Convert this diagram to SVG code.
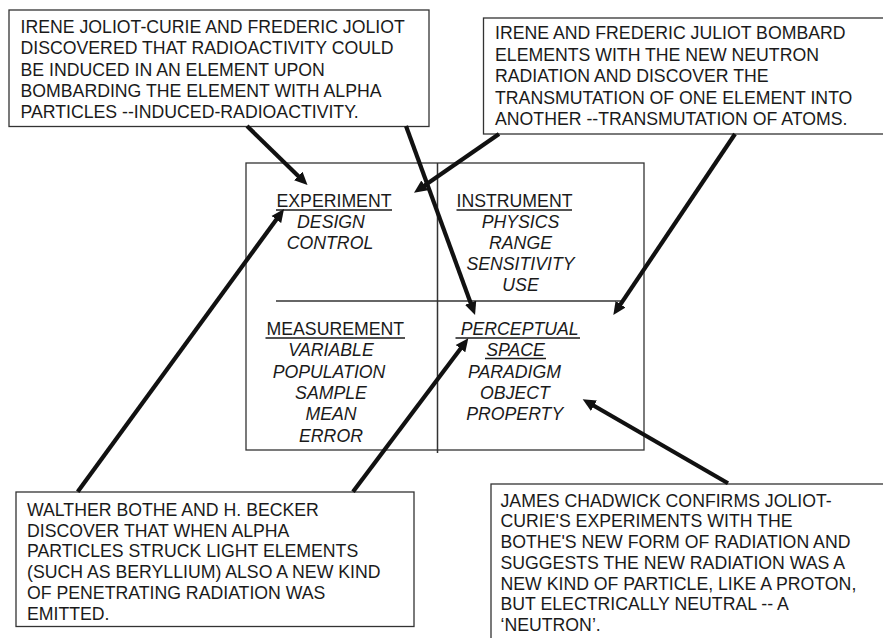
<svg xmlns="http://www.w3.org/2000/svg" width="883" height="638" viewBox="0 0 883 638">
<style>
.box{fill:#fff;stroke:#333;stroke-width:1.3}
.t{font-family:"Liberation Sans",Arial,sans-serif;font-size:17.7px;fill:#1a1a1a}
.i{font-family:"Liberation Sans",Arial,sans-serif;font-size:17.7px;fill:#1a1a1a;font-style:italic;text-anchor:middle}
.h{font-family:"Liberation Sans",Arial,sans-serif;font-size:17.7px;fill:#1a1a1a;text-anchor:middle}
.u{stroke:#1a1a1a;stroke-width:1.6}
.div{stroke:#333;stroke-width:1.5}
.arr{stroke:#111;stroke-width:4.2;fill:none;marker-end:url(#ah)}
</style>
<defs>
<marker id="ah" markerUnits="userSpaceOnUse" markerWidth="20" markerHeight="14" refX="5" refY="6" orient="auto" viewBox="0 0 20 12">
<path d="M0,0 L13,6 L0,12 z" fill="#111"/>
</marker>
</defs>
<rect width="883" height="638" fill="#fff"/>

<g id="central">
<rect class="box" x="246" y="163" width="398" height="287"/>
<line class="div" x1="437.5" y1="163" x2="437.5" y2="453"/>
<line class="div" x1="276" y1="301" x2="623" y2="301"/>
<text class="h" x="334" y="207">EXPERIMENT</text>
<line class="u" x1="276" y1="210" x2="392" y2="210"/>
<text class="i" x="331" y="228">DESIGN</text>
<text class="i" x="330" y="249">CONTROL</text>
<text class="h" x="514.5" y="207">INSTRUMENT</text>
<line class="u" x1="456.5" y1="210" x2="572" y2="210"/>
<text class="i" x="520.5" y="228">PHYSICS</text>
<text class="i" x="520.5" y="249">RANGE</text>
<text class="i" x="520.5" y="270">SENSITIVITY</text>
<text class="i" x="520.5" y="291">USE</text>
<text class="h" x="335.3" y="335">MEASUREMENT</text>
<line class="u" x1="265.5" y1="338" x2="405" y2="338"/>
<text class="i" x="331" y="356">VARIABLE</text>
<text class="i" x="329" y="377.5">POPULATION</text>
<text class="i" x="331" y="398.5">SAMPLE</text>
<text class="i" x="331" y="420">MEAN</text>
<text class="i" x="331" y="441.5">ERROR</text>
<text class="i" x="519.7" y="335">PERCEPTUAL</text>
<line class="u" x1="455.5" y1="338" x2="580" y2="338"/>
<text class="i" x="515.5" y="356">SPACE</text>
<line class="u" x1="485" y1="358.5" x2="546" y2="358.5"/>
<text class="i" x="514.5" y="377.5">PARADIGM</text>
<text class="i" x="515" y="398.5">OBJECT</text>
<text class="i" x="514.7" y="420">PROPERTY</text>
</g>

<g id="note-joliot-curie">
<rect class="box" x="9" y="10" width="420" height="116.5"/>
<text class="t" x="20.5" y="33">IRENE JOLIOT-CURIE AND FREDERIC JOLIOT</text>
<text class="t" x="20.5" y="54.3">DISCOVERED THAT RADIOACTIVITY COULD</text>
<text class="t" x="20.5" y="75.6">BE INDUCED IN AN ELEMENT UPON</text>
<text class="t" x="20.5" y="97">BOMBARDING THE ELEMENT WITH ALPHA</text>
<text class="t" x="20.5" y="118.3">PARTICLES --INDUCED-RADIOACTIVITY.</text>
</g>

<g id="note-transmutation">
<rect class="box" x="483.5" y="18" width="410" height="116"/>
<text class="t" x="495" y="39.3">IRENE AND FREDERIC JULIOT BOMBARD</text>
<text class="t" x="495" y="60.7">ELEMENTS WITH THE NEW NEUTRON</text>
<text class="t" x="495" y="82.1">RADIATION AND DISCOVER THE</text>
<text class="t" x="495" y="103.5">TRANSMUTATION OF ONE ELEMENT INTO</text>
<text class="t" x="495" y="124.9">ANOTHER --TRANSMUTATION OF ATOMS.</text>
</g>

<g id="note-bothe">
<rect class="box" x="16" y="492" width="398" height="134.5"/>
<text class="t" x="27" y="516">WALTHER BOTHE AND H. BECKER</text>
<text class="t" x="27" y="536.7">DISCOVER THAT WHEN ALPHA</text>
<text class="t" x="27" y="557.4">PARTICLES STRUCK LIGHT ELEMENTS</text>
<text class="t" x="27" y="578.1">(SUCH AS BERYLLIUM) ALSO A NEW KIND</text>
<text class="t" x="27" y="598.8">OF PENETRATING RADIATION WAS</text>
<text class="t" x="27" y="619.5">EMITTED.</text>
</g>

<g id="note-chadwick">
<rect class="box" x="491" y="484" width="400" height="200"/>
<text class="t" x="500.5" y="506.7">JAMES CHADWICK CONFIRMS JOLIOT-</text>
<text class="t" x="500.5" y="527.4">CURIE'S EXPERIMENTS WITH THE</text>
<text class="t" x="500.5" y="548.1">BOTHE'S NEW FORM OF RADIATION AND</text>
<text class="t" x="500.5" y="568.8">SUGGESTS THE NEW RADIATION WAS A</text>
<text class="t" x="500.5" y="589.5">NEW KIND OF PARTICLE, LIKE A PROTON,</text>
<text class="t" x="500.5" y="610.2">BUT ELECTRICALLY NEUTRAL -- A</text>
<text class="t" x="500.5" y="631">‘NEUTRON’.</text>
</g>

<g id="connectors">
<line class="arr" x1="247" y1="126" x2="301.8" y2="179.4"/>
<line class="arr" x1="406" y1="126" x2="472.3" y2="307.5"/>
<line class="arr" x1="499" y1="134" x2="420.6" y2="188.2"/>
<line class="arr" x1="735" y1="134" x2="617.8" y2="308.4"/>
<line class="arr" x1="77.7" y1="491.7" x2="279.3" y2="215.5"/>
<line class="arr" x1="353" y1="491.7" x2="463.5" y2="344.7"/>
<line class="arr" x1="728" y1="483.3" x2="589.6" y2="403.3"/>
</g>
</svg>
